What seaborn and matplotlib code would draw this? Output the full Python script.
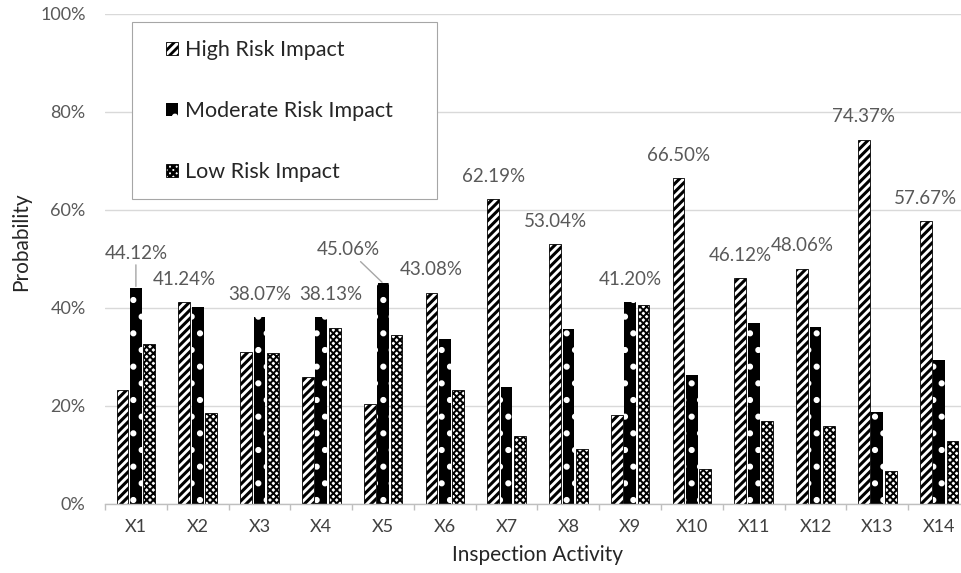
import numpy as np
import pandas as pd
import seaborn as sns
import matplotlib.pyplot as plt
from matplotlib.patches import Rectangle
from matplotlib.ticker import PercentFormatter, FixedLocator

# data (fractions)
activities = ["X1", "X2", "X3", "X4", "X5", "X6", "X7",
              "X8", "X9", "X10", "X11", "X12", "X13", "X14"]
impacts = ["High Risk Impact", "Moderate Risk Impact", "Low Risk Impact"]
high = [0.232, 0.4124, 0.311, 0.260, 0.205, 0.4308, 0.6219,
        0.5304, 0.182, 0.6650, 0.4612, 0.4806, 0.7437, 0.5767]
moderate = [0.4412, 0.403, 0.3807, 0.3813, 0.4506, 0.337, 0.239,
            0.357, 0.4120, 0.263, 0.370, 0.361, 0.188, 0.294]
low = [0.326, 0.185, 0.308, 0.359, 0.344, 0.232, 0.139,
       0.113, 0.406, 0.072, 0.169, 0.159, 0.068, 0.129]

df = pd.DataFrame({
    "activity": activities * 3,
    "impact": np.repeat(impacts, len(activities)),
    "prob": high + moderate + low,
})

# canvas
sns.set(style="white")
plt.rcParams["font.family"] = ["Lato", "DejaVu Sans"]
plt.rcParams["hatch.linewidth"] = 2.0

fig = plt.figure(figsize=(9.62, 5.73), dpi=100)
ax = fig.add_axes([105 / 962, 69 / 573, 865 / 962, 490 / 573])

sns.barplot(data=df, x="activity", y="prob", hue="impact", order=activities,
            hue_order=impacts, width=0.65, gap=0.12, legend=False, ax=ax)

# black & white fills
styles = {
    "High Risk Impact": dict(facecolor="white", edgecolor="black", hatch="////", linewidth=0.6),
    "Moderate Risk Impact": dict(facecolor="black", edgecolor="white", hatch=".", linewidth=0),
    "Low Risk Impact": dict(facecolor="white", edgecolor="black", hatch="xxxxx", linewidth=0.6),
}
hatch_lw = {"High Risk Impact": 2.2, "Moderate Risk Impact": 2.0, "Low Risk Impact": 1.4}
for container, name in zip(ax.containers, impacts):
    for bar in container:
        bar.set(**styles[name])
        if hasattr(bar, "set_hatch_linewidth"):
            bar.set_hatch_linewidth(hatch_lw[name])

# axes look
ax.set_ylim(0, 1)
ax.set_xlim(-0.5, len(activities) - 0.5)
ax.yaxis.set_major_locator(FixedLocator([0, 0.2, 0.4, 0.6, 0.8, 1.0]))
ax.yaxis.set_major_formatter(PercentFormatter(1.0, decimals=0))
ax.yaxis.grid(True, color="#d9d9d9", linewidth=1)
ax.set_axisbelow(True)
for side in ["left", "right", "top"]:
    ax.spines[side].set_visible(False)
ax.spines["bottom"].set_color("#bfbfbf")
ax.spines["bottom"].set_linewidth(1)
ax.xaxis.set_minor_locator(FixedLocator(np.arange(-0.5, len(activities), 1.0)))
ax.tick_params(axis="x", which="minor", length=4, width=1, color="#bfbfbf", direction="out", bottom=True)
ax.tick_params(axis="x", which="major", length=0, pad=11, labelsize=13, labelcolor="#404040")
ax.tick_params(axis="y", length=0, pad=14, labelsize=13, labelcolor="#595959")

ax.set_xlabel("Inspection Activity", fontsize=15, color="#262626", labelpad=7)
ax.set_ylabel("Probability", fontsize=15, color="#262626")
ax.yaxis.set_label_coords(-0.085, 0.535)

# labels on the tallest bar of each activity
shift = {0: (0, 25, True), 3: (7, 16.5, False), 4: (-25, 24, True)}
series = np.array([high, moderate, low])
for i in range(len(activities)):
    j = int(series[:, i].argmax())
    bar = ax.containers[j][i]
    x = bar.get_x() + bar.get_width() / 2
    y = bar.get_height()
    dx, dy, leader = shift.get(i, (0, 16.5, False))
    ax.annotate(f"{y * 100:.2f}%", xy=(x, y), xytext=(dx, dy), textcoords="offset points",
                ha="center", va="center", fontsize=13.5, color="#595959",
                arrowprops=dict(arrowstyle="-", color="#a6a6a6", lw=1, shrinkA=0, shrinkB=1) if leader else None)

# legend with a separate box like the original
leg = fig.legend(ax.containers, impacts, loc="upper left", bbox_to_anchor=(166 / 962, 1 - 40 / 573),
                 fontsize=15.5, labelspacing=1.9, handlelength=0.55, handleheight=0.55,
                 handletextpad=0.35, borderpad=0, borderaxespad=0, frameon=False)
for t in leg.get_texts():
    t.set_color("#262626")
fig.patches.append(Rectangle((132 / 962, 1 - 199 / 573), 305 / 962, 177 / 573,
                             transform=fig.transFigure, facecolor="white",
                             edgecolor="#a6a6a6", linewidth=0.8, zorder=1))

plt.savefig("out.png", dpi=100)
